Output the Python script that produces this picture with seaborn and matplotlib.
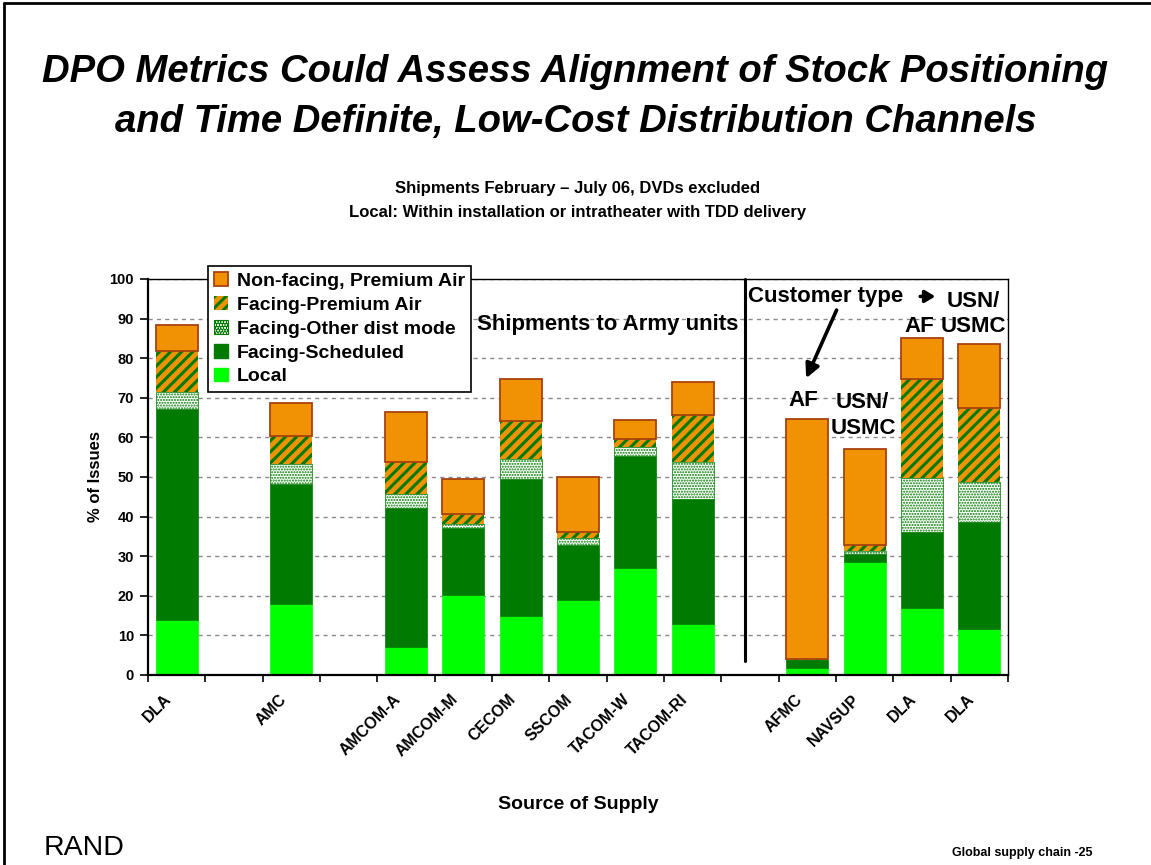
import numpy as np
import pandas as pd
import seaborn as sns
import matplotlib
matplotlib.use("Agg")
import matplotlib.pyplot as plt
import matplotlib.transforms as mtransforms
from matplotlib.patches import Patch
from matplotlib.lines import Line2D

# ---------------- data ----------------
slots = ["DLA", "gap1", "AMC", "gap2", "AMCOM-A", "AMCOM-M", "CECOM", "SSCOM",
         "TACOM-W", "TACOM-RI", "gap3", "AFMC", "NAVSUP", "DLA-AF", "DLA-USN"]
slot_labels = ["DLA", "", "AMC", "", "AMCOM-A", "AMCOM-M", "CECOM", "SSCOM",
               "TACOM-W", "TACOM-RI", "", "AFMC", "NAVSUP", "DLA", "DLA"]
sources = ["DLA", "AMC", "AMCOM-A", "AMCOM-M", "CECOM", "SSCOM",
           "TACOM-W", "TACOM-RI", "AFMC", "NAVSUP", "DLA-AF", "DLA-USN"]
local      = [13.9, 17.9,  7.1, 20.1, 14.9, 18.9, 27.0, 12.8,  1.8, 28.6, 17.0, 11.6]
scheduled  = [53.3, 30.3, 35.1, 17.1, 34.6, 13.9, 28.3, 31.6,  2.0,  1.9, 19.2, 27.0]
other_mode = [ 4.3,  5.0,  3.4,  0.9,  5.0,  1.7,  2.4,  9.5,  0.1,  0.8, 13.5, 10.1]
prem_air   = [10.3,  7.2,  8.3,  2.6,  9.7,  1.7,  2.0, 11.8,  0.1,  1.5, 25.1, 18.8]
nonfacing  = [ 6.5,  8.4, 12.4,  8.8, 10.5, 13.9,  4.6,  8.4, 60.6, 24.3, 10.2, 16.1]

series_names = ["Local", "Facing-Scheduled", "Facing-Other dist mode",
                "Facing-Premium Air", "Non-facing, Premium Air"]
yticks = [0, 10, 20, 30, 40, 50, 60, 70, 80, 90, 100]

# ---------------- style ----------------
sns.set_theme(style="ticks")
plt.rcParams["font.family"] = ["Liberation Sans", "DejaVu Sans"]
plt.rcParams["hatch.linewidth"] = 2.2
for k in ["text.color", "axes.labelcolor", "xtick.color", "ytick.color", "axes.edgecolor"]:
    plt.rcParams[k] = "black"

ORANGE = "#F09204"
BROWN = "#A8420E"
DKGREEN = "#007A00"
LTGREEN = "#00FF00"

W, H = 1151, 865
fig = plt.figure(figsize=(W / 100, H / 100), dpi=100)
ax = fig.add_axes([148 / W, 1 - 675 / H, (1008 - 148) / W, (675 - 279) / H])

df = pd.DataFrame({"source": sources, "local": local, "scheduled": scheduled,
                   "other": other_mode, "prem": prem_air, "nonfacing": nonfacing})

bw = 0.73
bottom = np.zeros(len(df))
specs = [
    ("local", dict(color=LTGREEN, edgecolor=LTGREEN, linewidth=0.5)),
    ("scheduled", dict(color=DKGREEN, edgecolor=DKGREEN, linewidth=0.5)),
    ("other", dict(color="white", edgecolor=DKGREEN, hatch="......", linewidth=0.5)),
    ("prem", dict(color=ORANGE, edgecolor=DKGREEN, hatch="///", linewidth=0)),
    ("nonfacing", dict(color=ORANGE, edgecolor=BROWN, linewidth=1.3)),
]
for col, kw in specs:
    sns.barplot(data=df, x="source", y=col, order=slots, ax=ax, width=bw,
                saturation=1, errorbar=None, bottom=bottom.copy(), **kw)
    bottom = bottom + df[col].to_numpy()

for p in ax.patches:
    if p.get_hatch() == "......" and hasattr(p, "set_hatch_linewidth"):
        p.set_hatch_linewidth(1.0)

# ---------------- axes ----------------
ax.set_xlim(-0.5, len(slots) - 0.5)
ax.set_ylim(0, 100)
ax.set_yticks(yticks)
ax.set_yticklabels([str(v) for v in yticks], fontsize=10.5, fontweight="bold")
ax.yaxis.grid(True, linestyle=(0, (3, 3)), color="#8a8a8a", linewidth=1)
ax.xaxis.grid(False)
ax.set_axisbelow(True)

ax.set_xticks(range(len(slots)))
ax.set_xticklabels(slot_labels, rotation=45, ha="right", va="top",
                   rotation_mode="anchor", fontsize=11.5, fontweight="bold")
ax.tick_params(axis="x", which="major", length=0, pad=12)
shift = mtransforms.ScaledTranslation(-13 / 100, 0, fig.dpi_scale_trans)
for lbl in ax.get_xticklabels():
    lbl.set_transform(lbl.get_transform() + shift)
ax.set_xticks(np.arange(-0.5, len(slots)), minor=True)
ax.tick_params(axis="x", which="minor", length=5, width=1.2, direction="out", color="black")
ax.tick_params(axis="y", length=6, width=1.2, direction="out", color="black", pad=4)

for s in ["left", "bottom"]:
    ax.spines[s].set_linewidth(1.6)
    ax.spines[s].set_color("black")
for s in ["top", "right"]:
    ax.spines[s].set_visible(True)
    ax.spines[s].set_linewidth(1.0)
    ax.spines[s].set_color("black")

ax.set_xlabel("Source of Supply", fontsize=14, fontweight="bold", labelpad=26)
ax.set_ylabel("% of Issues", fontsize=12, fontweight="bold", labelpad=5)

# separator line
ax.plot([9.91, 9.91], [3.6, 100], color="black", linewidth=2.2, clip_on=False)

# annotations
ax.text(7.52, 88.4, "Shipments to Army units", ha="center", va="center",
        fontsize=16, fontweight="bold")
ax.text(9.97, 95.6, "Customer type", ha="left", va="center", fontsize=16, fontweight="bold")
ax.annotate("", xy=(13.28, 95.6), xytext=(12.92, 95.6),
            arrowprops=dict(arrowstyle="-|>,head_length=0.5,head_width=0.3",
                            color="black", lw=2.5))
ax.text(13.89, 94.2, "USN/", ha="center", va="center", fontsize=16, fontweight="bold")
ax.text(13.89, 87.9, "USMC", ha="center", va="center", fontsize=16, fontweight="bold")
ax.text(12.95, 87.9, "AF", ha="center", va="center", fontsize=16, fontweight="bold")
ax.annotate("", xy=(10.96, 74.3), xytext=(11.53, 92.8),
            arrowprops=dict(arrowstyle="-|>,head_length=0.7,head_width=0.35",
                            color="black", lw=2.6))
ax.text(10.93, 69.4, "AF", ha="center", va="center", fontsize=16, fontweight="bold")
ax.text(11.95, 68.7, "USN/", ha="center", va="center", fontsize=16, fontweight="bold")
ax.text(11.97, 62.2, "USMC", ha="center", va="center", fontsize=16, fontweight="bold")

# legend
colors_map = {
    "Non-facing, Premium Air": dict(facecolor=ORANGE, edgecolor=BROWN, linewidth=1.3),
    "Facing-Premium Air": dict(facecolor=ORANGE, edgecolor=DKGREEN, hatch="///", linewidth=0),
    "Facing-Other dist mode": dict(facecolor="white", edgecolor=DKGREEN, hatch="......", linewidth=0.8),
    "Facing-Scheduled": dict(facecolor=DKGREEN, edgecolor=DKGREEN),
    "Local": dict(facecolor=LTGREEN, edgecolor=LTGREEN),
}
handles = [Patch(label=n, **colors_map[n]) for n in series_names[::-1]]
leg = fig.legend(handles=handles, loc="upper left",
                 bbox_to_anchor=(208 / W, 1 - 266 / H), bbox_transform=fig.transFigure,
                 frameon=True, fancybox=False, shadow=False, borderaxespad=0,
                 prop=dict(size=14, weight="bold"), handlelength=0.7, handleheight=0.7,
                 handletextpad=0.45, labelspacing=0.32, borderpad=0.33)
leg.get_frame().set_edgecolor("black")
leg.get_frame().set_linewidth(1.2)
leg.get_frame().set_alpha(1)

# titles
fig.text(0.5, 1 - 72 / H, "DPO Metrics Could Assess Alignment of Stock Positioning",
         ha="center", va="center", fontsize=27.5, fontweight="bold", style="italic")
fig.text(0.5, 1 - 122 / H, "and Time Definite, Low-Cost Distribution Channels",
         ha="center", va="center", fontsize=27.5, fontweight="bold", style="italic")
fig.text(578 / W, 1 - 189 / H, "Shipments February \u2013 July 06, DVDs excluded",
         ha="center", va="center", fontsize=12, fontweight="bold")
fig.text(578 / W, 1 - 212 / H, "Local: Within installation or intratheater with TDD delivery",
         ha="center", va="center", fontsize=12, fontweight="bold")
fig.text(44 / W, 1 - 848 / H, "RAND", ha="left", va="center", fontsize=20.5)
fig.text(1093 / W, 1 - 853 / H, "Global supply chain -25", ha="right", va="center",
         fontsize=9, fontweight="bold")

# slide frame (top and left edges)
fig.add_artist(Line2D([4 / W, 4 / W], [0, 1 - 3 / H], transform=fig.transFigure,
                      color="black", linewidth=2))
fig.add_artist(Line2D([4 / W, 1], [1 - 3 / H, 1 - 3 / H], transform=fig.transFigure,
                      color="black", linewidth=2))

fig.savefig("out.png", dpi=100)
